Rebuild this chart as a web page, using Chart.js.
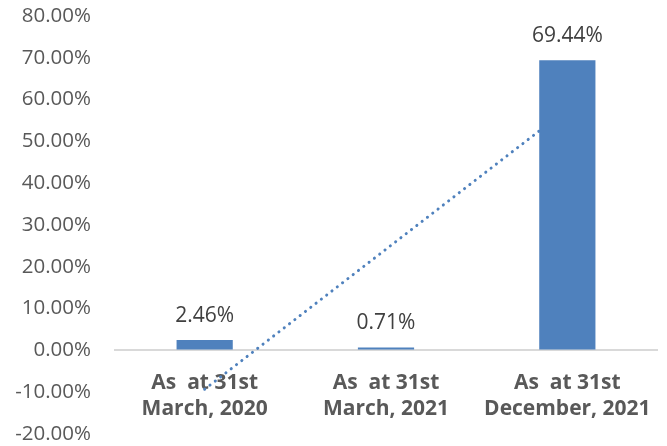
<!DOCTYPE html>
<html>
<head>
<meta charset="utf-8">
<script src="https://cdn.jsdelivr.net/npm/chart.js@4"></script>
<style>
  html, body { margin: 0; padding: 0; background: #ffffff; }
  #wrap { width: 667px; height: 446px; position: relative; }
</style>
</head>
<body>
<div id="wrap"><canvas id="chart"></canvas></div>
<script>
// Category labels (two lines each)
const categories = [
  ['As  at 31st', 'March, 2020'],
  ['As  at 31st', 'March, 2021'],
  ['As  at 31st', 'December, 2021']
];
// Ratio values in percent
const values = [2.46, 0.71, 69.44];
// Linear trend across the three periods, in percent
const trendValues = [-9.29, 24.20, 57.69];
// Value axis ticks
const yTicks = [-20, -10, 0, 10, 20, 30, 40, 50, 60, 70, 80];

const barColor = '#4f81bd';
const textColor = '#595959';

// Prints each bar's value above its top edge
const valueLabels = {
  id: 'valueLabels',
  afterDatasetsDraw(chart) {
    const ctx = chart.ctx;
    const meta = chart.getDatasetMeta(1);
    ctx.save();
    ctx.font = '21px "Open Sans"';
    ctx.fillStyle = '#404040';
    ctx.textAlign = 'center';
    ctx.textBaseline = 'middle';
    meta.data.forEach((bar, i) => {
      ctx.fillText(values[i].toFixed(2) + '%', bar.x, bar.y - 24);
    });
    ctx.restore();
  }
};

new Chart(document.getElementById('chart'), {
  data: {
    labels: categories,
    datasets: [
      {
        type: 'line',
        data: trendValues,
        borderColor: barColor,
        borderWidth: 3,
        borderDash: [0.1, 6.6],
        borderCapStyle: 'round',
        pointRadius: 0,
        fill: false,
        tension: 0,
        order: 2
      },
      {
        type: 'bar',
        data: values,
        backgroundColor: barColor,
        barPercentage: 0.31,
        categoryPercentage: 1,
        order: 1
      }
    ]
  },
  options: {
    responsive: true,
    maintainAspectRatio: false,
    animation: false,
    layout: { padding: { left: 0, right: 9, top: 16, bottom: 12 } },
    plugins: {
      legend: { display: false },
      tooltip: { enabled: false }
    },
    scales: {
      x: {
        position: { y: 0 },
        grid: { display: false },
        border: { display: false },
        afterFit(scale) { scale.paddingTop = 0; scale.paddingBottom = 0; },
        ticks: {
          color: textColor,
          font: { family: '"Open Sans"', size: 21, weight: 'bold', lineHeight: 1.24 },
          padding: 12,
          maxRotation: 0,
          autoSkip: false
        }
      },
      y: {
        min: -20,
        max: 80,
        afterBuildTicks(scale) {
          scale.ticks = yTicks.map(v => ({ value: v }));
        },
        afterFit(scale) {
          scale.width = 114;
          scale.paddingTop = 0;
          scale.paddingBottom = 0;
        },
        grid: {
          color: c => (c.tick && c.tick.value === 0) ? '#d9d9d9' : 'rgba(0,0,0,0)',
          lineWidth: 2,
          drawTicks: false
        },
        border: { display: false },
        ticks: {
          color: textColor,
          font: { family: '"Open Sans"', size: 20.5 },
          padding: 23,
          callback: v => v.toFixed(2) + '%'
        }
      }
    }
  },
  plugins: [valueLabels]
});
</script>
</body>
</html>
